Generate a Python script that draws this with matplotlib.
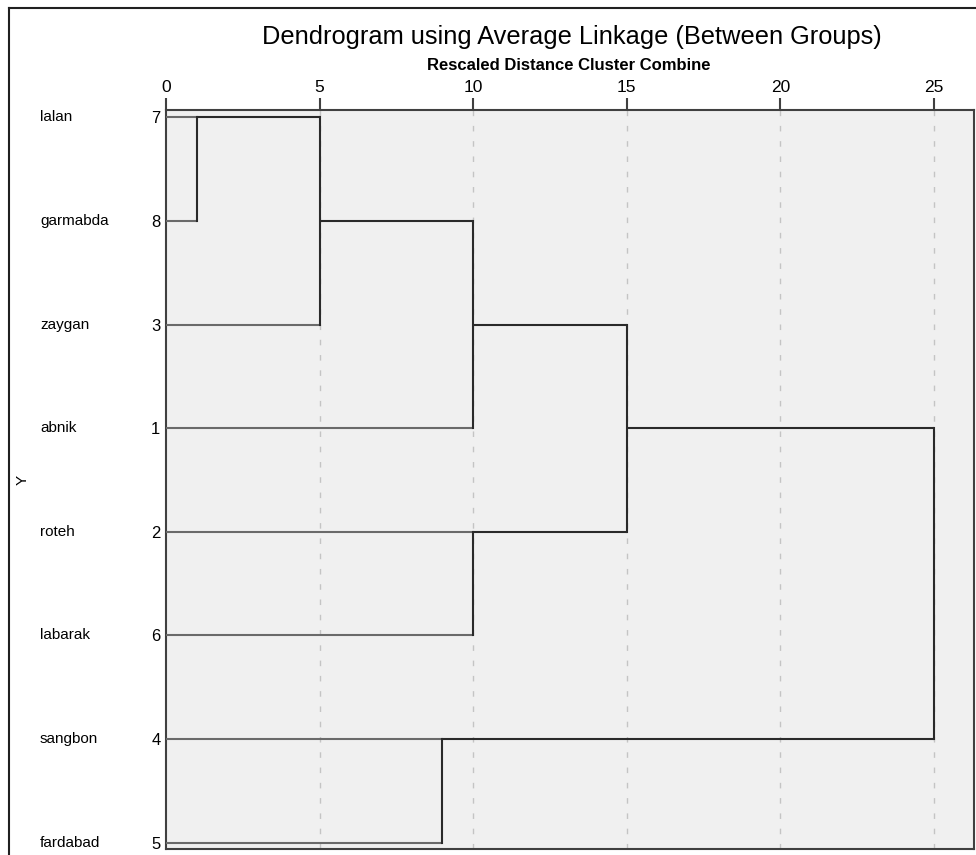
import matplotlib.pyplot as plt
from matplotlib.lines import Line2D

plt.rcParams['font.family'] = ['Liberation Sans', 'DejaVu Sans']

# leaves, top to bottom
names = ['lalan', 'garmabda', 'zaygan', 'abnik', 'roteh', 'labarak', 'sangbon', 'fardabad']
case_ids = ['7', '8', '3', '1', '2', '6', '4', '5']

# merges: (cluster a, cluster b, rescaled distance); leaves are 0..7, new clusters 8..
merge_a = [0, 8, 4, 9, 6, 11, 13]
merge_b = [1, 2, 5, 3, 7, 10, 12]
merge_dist = [1, 5, 10, 10, 9, 15, 25]

ticks = [0, 5, 10, 15, 20, 25]

fig = plt.figure(figsize=(9.76, 8.55), dpi=100)
ax = fig.add_axes([166 / 976, 6 / 855, 808 / 976, 739 / 855])
ax.set_facecolor('#f0f0f0')

# cluster position = row (floor of midpoint), height = merge distance
pos = {i: i for i in range(len(names))}
height = {i: 0 for i in range(len(names))}
for k, (a, b, d) in enumerate(zip(merge_a, merge_b, merge_dist)):
    new = len(names) + k
    for c in (a, b):
        col = '#6a6a6a' if c < len(names) else '#2a2a2a'
        ax.plot([height[c], d], [pos[c], pos[c]], color=col, lw=1.5, solid_capstyle='butt', zorder=3)
    ax.plot([d, d], [pos[a], pos[b]], color='#2a2a2a', lw=1.5, zorder=3)
    pos[new] = (pos[a] + pos[b]) // 2
    height[new] = d

for t in ticks[1:]:
    ax.axvline(t, color='#c4c4c4', lw=1, ls=(0, (4, 7)), zorder=1)

ax.set_xlim(0, 25 * 808 / 768)
ax.set_ylim(7.06, -0.07)
ax.xaxis.tick_top()
ax.set_xticks(ticks)
ax.set_xticklabels([str(t) for t in ticks], fontsize=12.5)
ax.tick_params(axis='x', length=9, width=1.5, color='#404040', pad=2)
ax.set_yticks(range(len(names)))
ax.set_yticklabels(case_ids, fontsize=12)
ax.tick_params(axis='y', length=0, pad=4)
for s in ax.spines.values():
    s.set_color('#404040')
    s.set_linewidth(1.5)

for i, n in enumerate(names):
    ax.text(40 / 976, ax.transData.transform((0, i))[1] / 855, n, transform=fig.transFigure,
            fontsize=11, ha='left', va='center')

fig.text(23 / 976, 1 - 480 / 855, 'Y', rotation=90, fontsize=11, ha='center', va='center')
fig.text(572 / 976, 1 - 37 / 855, 'Dendrogram using Average Linkage (Between Groups)',
         fontsize=18.3, ha='center', va='center')
fig.text(569 / 976, 1 - 65 / 855, 'Rescaled Distance Cluster Combine',
         fontsize=12, fontweight='bold', ha='center', va='center')

# outer frame
fig.add_artist(Line2D([9 / 976, 9 / 976], [0, 1 - 8 / 855], color='#202020', lw=1.5))
fig.add_artist(Line2D([9 / 976, 1], [1 - 8 / 855, 1 - 8 / 855], color='#202020', lw=1.5))

fig.savefig('out.png', dpi=100)
